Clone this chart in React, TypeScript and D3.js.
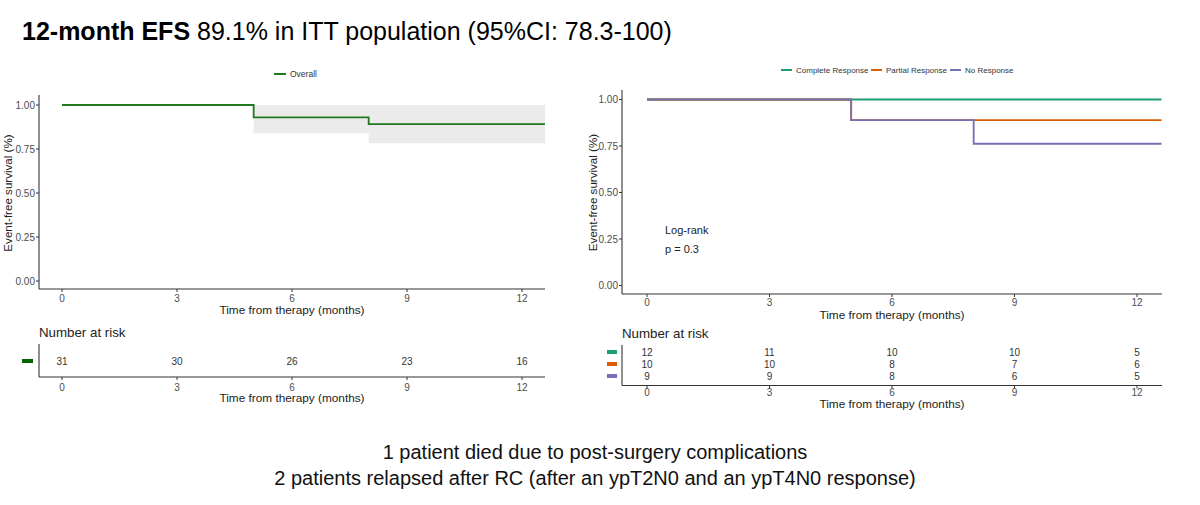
import React from "react";
import * as d3 from "d3";

const monthTicks = [0, 3, 6, 9, 12];
const yTicks = [0, 0.25, 0.5, 0.75, 1];
const maxTime = 12.6;

// Overall KM curve (step times, survival, 95% CI)
const overallTimes = [0, 5, 8, maxTime];
const overallSurv = [1.0, 0.93, 0.891, 0.891];
const overallLower = [1.0, 0.839, 0.783, 0.783];
const overallUpper = [1.0, 1.0, 1.0, 1.0];
const overallRisk = [31, 30, 26, 23, 16];

// Response groups
const groupNames = ["Complete Response", "Partial Response", "No Response"];
const groupColors = ["#1b9e77", "#d95f02", "#7570b3"];
const crTimes = [0, maxTime];
const crSurv = [1.0, 1.0];
const prTimes = [0, 5, maxTime];
const prSurv = [1.0, 0.889, 0.889];
const nrTimes = [0, 5, 8, maxTime];
const nrSurv = [1.0, 0.889, 0.762, 0.762];
const crRisk = [12, 11, 10, 10, 5];
const prRisk = [10, 10, 8, 7, 6];
const nrRisk = [9, 9, 8, 6, 5];

const FONT = "'Liberation Sans', Arial, sans-serif";
const AXIS = "#333333";
const TICKTXT = "#4d4d4d";

type Pt = { t: number; s: number; lo?: number; hi?: number };

function KMPanel(props: {
  x0: number; x12: number; yTop: number; yBottom: number; axisX: number; axisY: number;
  xEnd: number; yAxisTop: number; ylabelX: number; tickLabelY: number; titleY: number;
  children?: (x: d3.ScaleLinear<number, number>, y: d3.ScaleLinear<number, number>) => React.ReactNode;
}) {
  const x = d3.scaleLinear().domain([0, 12]).range([props.x0, props.x12]);
  const y = d3.scaleLinear().domain([0, 1]).range([props.yBottom, props.yTop]);
  const midY = (props.yTop + props.yBottom) / 2;
  return (
    <g>
      {props.children && props.children(x, y)}
      <line x1={props.axisX} x2={props.axisX} y1={props.yAxisTop} y2={props.axisY} stroke={AXIS} strokeWidth={1.1} />
      <line x1={props.axisX} x2={props.xEnd} y1={props.axisY} y2={props.axisY} stroke={AXIS} strokeWidth={1.1} />
      {yTicks.map((v) => (
        <g key={v}>
          <line x1={props.axisX - 3} x2={props.axisX} y1={y(v)} y2={y(v)} stroke={AXIS} strokeWidth={1} />
          <text x={props.axisX - 4} y={y(v)} dy="0.35em" textAnchor="end" fontSize={10} fill={TICKTXT} fontFamily={FONT}>
            {d3.format(".2f")(v)}
          </text>
        </g>
      ))}
      {monthTicks.map((m) => (
        <g key={m}>
          <line x1={x(m)} x2={x(m)} y1={props.axisY} y2={props.axisY + 3} stroke={AXIS} strokeWidth={1} />
          <text x={x(m)} y={props.tickLabelY} dy="0.35em" textAnchor="middle" fontSize={10} fill={TICKTXT} fontFamily={FONT}>
            {m}
          </text>
        </g>
      ))}
      <text x={(props.axisX + props.xEnd) / 2} y={props.titleY} dy="0.35em" textAnchor="middle" fontSize={11.8} fill="#222" fontFamily={FONT}>
        Time from therapy (months)
      </text>
      <text transform={`translate(${props.ylabelX},${midY}) rotate(-90)`} textAnchor="middle" fontSize={11.6} fill="#222" fontFamily={FONT}>
        Event-free survival (%)
      </text>
    </g>
  );
}

function RiskTable(props: {
  x0: number; x12: number; axisX: number; xEnd: number; lineTop: number; axisY: number;
  titleY: number; rows: number[][]; rowY: number[]; colors: string[]; dashX: number;
  tickLabelY: number; axTitleY: number; dashW: number;
}) {
  const x = d3.scaleLinear().domain([0, 12]).range([props.x0, props.x12]);
  return (
    <g fontFamily={FONT}>
      <text x={props.axisX} y={props.titleY} dy="0.35em" fontSize={13.3} fill="#222">Number at risk</text>
      <line x1={props.axisX} x2={props.axisX} y1={props.lineTop} y2={props.axisY} stroke={AXIS} strokeWidth={1.1} />
      <line x1={props.axisX} x2={props.xEnd} y1={props.axisY} y2={props.axisY} stroke={AXIS} strokeWidth={1.1} />
      {props.rows.map((row, i) => (
        <g key={i}>
          <rect x={props.dashX} y={props.rowY[i] - 2} width={props.dashW} height={4} fill={props.colors[i]} />
          {row.map((v, j) => (
            <text key={j} x={x(monthTicks[j])} y={props.rowY[i]} dy="0.35em" textAnchor="middle" fontSize={10} fill="#333">
              {v}
            </text>
          ))}
        </g>
      ))}
      {monthTicks.map((m) => (
        <g key={m}>
          <line x1={x(m)} x2={x(m)} y1={props.axisY} y2={props.axisY + 3} stroke={AXIS} strokeWidth={1} />
          <text x={x(m)} y={props.tickLabelY} dy="0.35em" textAnchor="middle" fontSize={10} fill={TICKTXT}>{m}</text>
        </g>
      ))}
      <text x={(props.axisX + props.xEnd) / 2} y={props.axTitleY} dy="0.35em" textAnchor="middle" fontSize={11.8} fill="#222">
        Time from therapy (months)
      </text>
    </g>
  );
}

function toPts(times: number[], surv: number[], lo?: number[], hi?: number[]): Pt[] {
  return times.map((t, i) => ({ t, s: surv[i], lo: lo ? lo[i] : undefined, hi: hi ? hi[i] : undefined }));
}

export default function App() {
  const overallPts = toPts(overallTimes, overallSurv, overallLower, overallUpper);
  const groupPts = [toPts(crTimes, crSurv), toPts(prTimes, prSurv), toPts(nrTimes, nrSurv)];

  return (
    <svg width={1200} height={505} style={{ position: "absolute", left: 0, top: 0, background: "#fff" }}>
      <rect width={1200} height={505} fill="#fff" />
      <text x={22} y={40} fontSize={25} fontFamily={FONT} fill="#000">
        <tspan fontWeight="bold">12-month EFS</tspan>
        <tspan> 89.1% in ITT population (95%CI: 78.3-100)</tspan>
      </text>

      {/* Left legend */}
      <line x1={274} x2={286} y1={74} y2={74} stroke="#1f7a1f" strokeWidth={2} />
      <text x={290} y={74} dy="0.35em" fontSize={8.5} fontFamily={FONT} fill="#333">Overall</text>

      <KMPanel x0={62} x12={522} yTop={105} yBottom={281} axisX={39} axisY={289} xEnd={545} yAxisTop={95}
        ylabelX={12} tickLabelY={298} titleY={310}>
        {(x, y) => {
          const area = d3.area<Pt>().x((d) => x(d.t)).y0((d) => y(d.lo!)).y1((d) => y(d.hi!)).curve(d3.curveStepAfter);
          const line = d3.line<Pt>().x((d) => x(d.t)).y((d) => y(d.s)).curve(d3.curveStepAfter);
          return (
            <g>
              <path d={area(overallPts) || ""} fill="#ebebeb" />
              <path d={line(overallPts) || ""} fill="none" stroke="#1f7a1f" strokeWidth={1.8} />
            </g>
          );
        }}
      </KMPanel>

      <RiskTable x0={62} x12={522} axisX={39} xEnd={545} lineTop={344} axisY={377} titleY={332}
        rows={[overallRisk]} rowY={[361]} colors={["#006400"]} dashX={22} dashW={11}
        tickLabelY={387} axTitleY={398} />

      {/* Right legend */}
      {groupNames.map((g, i) => {
        const lx = [781, 871, 950][i];
        return (
          <g key={g}>
            <line x1={lx} x2={lx + 11} y1={70} y2={70} stroke={groupColors[i]} strokeWidth={2} />
            <text x={lx + 15} y={70} dy="0.35em" fontSize={8} fontFamily={FONT} fill="#333">{g}</text>
          </g>
        );
      })}

      <KMPanel x0={647} x12={1137} yTop={99.5} yBottom={285.5} axisX={622} axisY={294} xEnd={1162} yAxisTop={90}
        ylabelX={597} tickLabelY={302} titleY={315}>
        {(x, y) => {
          const line = d3.line<Pt>().x((d) => x(d.t)).y((d) => y(d.s)).curve(d3.curveStepAfter);
          return (
            <g>
              {groupPts.map((pts, i) => (
                <path key={i} d={line(pts) || ""} fill="none" stroke={groupColors[i]} strokeWidth={1.8} />
              ))}
              <text x={665} y={230} dy="0.35em" fontSize={11} fontFamily={FONT} fill="#222">Log-rank</text>
              <text x={665} y={249} dy="0.35em" fontSize={11} fontFamily={FONT} fill="#222">p = 0.3</text>
            </g>
          );
        }}
      </KMPanel>

      <RiskTable x0={647} x12={1137} axisX={622} xEnd={1162} lineTop={345} axisY={385.5} titleY={333}
        rows={[crRisk, prRisk, nrRisk]} rowY={[352, 364, 376]} colors={groupColors} dashX={607} dashW={10}
        tickLabelY={392} axTitleY={404} />

      <text x={595} y={452} dy="0.35em" textAnchor="middle" fontSize={20} fontFamily={FONT} fill="#111">
        1 patient died due to post-surgery complications
      </text>
      <text x={595} y={478} dy="0.35em" textAnchor="middle" fontSize={20} fontFamily={FONT} fill="#111">
        2 patients relapsed after RC (after an ypT2N0 and an ypT4N0 response)
      </text>
    </svg>
  );
}
